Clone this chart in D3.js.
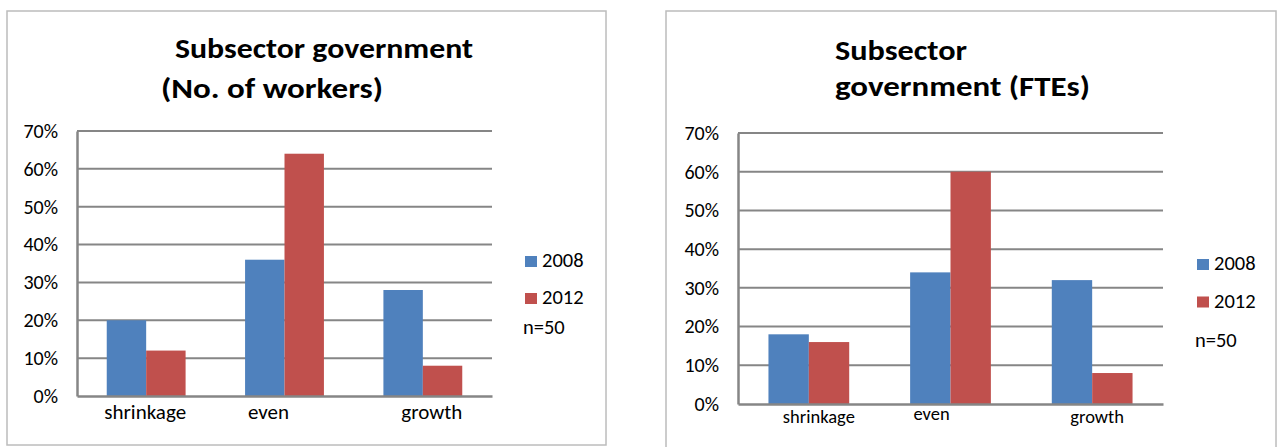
<!DOCTYPE html>
<html>
<head>
<meta charset="utf-8">
<script src="https://cdn.jsdelivr.net/npm/d3@7"></script>
<style>
  html, body { margin: 0; padding: 0; background: #fff; }
  svg { display: block; font-family: Carlito, Lato, "Open Sans", sans-serif; }
</style>
</head>
<body>
<svg id="chart" width="1281" height="447"></svg>
<script>
// ---- Data ----
const categories = ["shrinkage", "even", "growth"];
const seriesNames = ["2008", "2012"];
const workers2008 = [20, 36, 28];
const workers2012 = [12, 64, 8];
const fte2008 = [18, 34, 32];
const fte2012 = [16, 60, 8];
const yTicks = [0, 10, 20, 30, 40, 50, 60, 70];
const titleWorkers = ["Subsector government", "(No. of workers)"];
const titleFte = ["Subsector", "government (FTEs)"];
const noteText = "n=50";

const colors = ["#4f81bd", "#c0504d"];
const FONT = "Carlito, Lato, 'Open Sans', sans-serif";
const svg = d3.select("#chart");

function drawChart(opt) {
  const g = svg.append("g");
  // outer frame
  g.append("rect")
    .attr("x", opt.frame[0]).attr("y", opt.frame[1])
    .attr("width", opt.frame[2]).attr("height", opt.frame[3])
    .attr("fill", "#fff").attr("stroke", "#bcbcbc").attr("stroke-width", 1.5);

  // title
  opt.title.forEach((t, i) => {
    g.append("text")
      .attr("x", opt.titlePos[i][0]).attr("y", opt.titlePos[i][1])
      .attr("font-size", 29).attr("font-weight", "bold").attr("fill", "#000")
      .attr("textLength", opt.titleLen[i]).attr("lengthAdjust", "spacingAndGlyphs")
      .text(t);
  });

  const x = d3.scaleBand().domain(categories).range([opt.left, opt.right]);
  const y = d3.scaleLinear().domain([0, 70]).range([opt.bottom, opt.top]);
  const barW = x.bandwidth() * 0.285;

  // gridlines
  g.append("g").selectAll("line").data(yTicks.filter(d => d > 0)).join("line")
    .attr("x1", opt.left).attr("x2", opt.right)
    .attr("y1", d => y(d)).attr("y2", d => y(d))
    .attr("stroke", "#868686").attr("stroke-width", 2);

  // y axis
  const yAxis = d3.axisLeft(y).tickValues(yTicks).tickSize(0).tickPadding(19)
    .tickFormat(d => d + "%");
  const ya = g.append("g").attr("transform", `translate(${opt.left},0)`).call(yAxis);
  ya.select(".domain").attr("stroke", "#868686").attr("stroke-width", 2.5);
  ya.selectAll("text").attr("font-size", 20).attr("fill", "#000").attr("font-family", FONT);

  // bars
  const series = [opt.s1, opt.s2];
  series.forEach((vals, si) => {
    g.append("g").selectAll("rect").data(vals).join("rect")
      .attr("x", (d, i) => x(categories[i]) + x.bandwidth() / 2 + (si - 1) * barW)
      .attr("width", barW)
      .attr("y", d => y(d))
      .attr("height", d => y(0) - y(d))
      .attr("fill", colors[si]);
  });

  // x axis
  const xAxis = d3.axisBottom(x).tickSize(0).tickPadding(opt.xPad);
  const xa = g.append("g").attr("transform", `translate(0,${opt.bottom})`).call(xAxis);
  xa.select(".domain").attr("stroke", "#868686").attr("stroke-width", 2.5);
  xa.selectAll("text").attr("font-size", opt.xFont).attr("fill", "#000").attr("font-family", FONT)
    .attr("dx", (d, i) => opt.xShift[i])
    .attr("y", (d, i) => opt.xPad + opt.xDy[i]);

  // legend
  seriesNames.forEach((s, i) => {
    g.append("rect")
      .attr("x", opt.legend[0]).attr("y", opt.legend[1] + i * opt.legendStep)
      .attr("width", 12).attr("height", 11).attr("fill", colors[i]);
    g.append("text")
      .attr("x", opt.legend[0] + 17).attr("y", opt.legend[1] + i * opt.legendStep + 11)
      .attr("font-size", 20.5).attr("fill", "#000").text(s);
  });
  g.append("text")
    .attr("x", opt.legend[0] - 2).attr("y", opt.noteY)
    .attr("font-size", 20.5).attr("fill", "#000").text(noteText);
}

drawChart({
  frame: [7, 11, 599, 434],
  title: titleWorkers,
  titlePos: [[175, 58], [161, 98]],
  titleLen: [298, 222],
  left: 77, right: 492, top: 131, bottom: 396,
  xPad: 8, xFont: 21,
  xShift: [-1, -16, 9], xDy: [0, 0, 0],
  s1: workers2008, s2: workers2012,
  legend: [525, 256], legendStep: 37, noteY: 334
});

drawChart({
  frame: [666, 11, 610, 445],
  title: titleFte,
  titlePos: [[835, 60], [835, 96]],
  titleLen: [132, 255],
  left: 738, right: 1163, top: 133, bottom: 404,
  xPad: 6, xFont: 18.5,
  xShift: [10, -19, 5], xDy: [0, -3, 0],
  s1: fte2008, s2: fte2012,
  legend: [1197, 259], legendStep: 37.5, noteY: 347
});
</script>
</body>
</html>
